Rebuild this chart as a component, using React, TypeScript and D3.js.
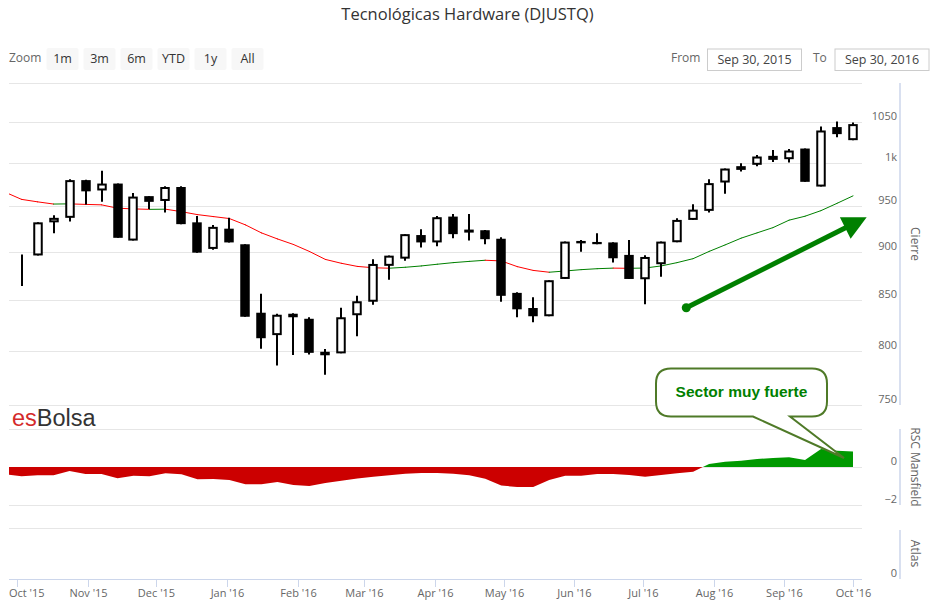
import { useRef, useEffect } from "react";
import * as d3 from "d3";

const WIDTH = 935;
const HEIGHT = 614;

const LEFT = 9;
const RIGHT = 862;
const AXIS_X = 900;

const MAIN_TOP = 83;
const MAIN_BOTTOM = 405;
const RSC_TOP = 429;
const RSC_BOTTOM = 505;
const ATLAS_TOP = 528;
const ATLAS_BOTTOM = 579;

const FONT = '"Open Sans", "Noto Sans", sans-serif';

// semanas (velas semanales), la primera fecha es la semana anterior (solo para la media y el RSC)
const PREV_WEEK = "2015-09-26";
const FIRST_WEEK = "2015-10-03";
const LAST_WEEK = "2016-10-01";

const OPEN = [896, 896, 932, 937, 980, 968, 976, 912, 961.5, 956, 972, 932, 903, 925, 908, 837, 815, 836, 831, 799, 797.5, 834.5, 848, 885, 892.6, 918, 910, 938.4, 920.7, 923.3, 914, 857, 841.7, 833.5, 871.3, 911.6, 910.5, 910, 896.6, 871, 886.7, 910.2, 934.7, 944.8, 977.2, 996.4, 998, 1008.7, 1004.7, 1017.5, 972.5, 1043.8, 1027.7];
const HIGH = [897, 932, 940, 981, 980.5, 991, 976, 965, 961.5, 973, 973, 939, 929, 937, 908, 856, 836, 836.5, 832.5, 801.6, 842, 854, 892, 896, 919, 924.4, 939, 941.4, 941.4, 923.5, 915.7, 857.6, 852.5, 870, 911, 912.6, 920, 910.2, 912.7, 896.2, 911, 936.6, 952.3, 981.1, 993.6, 1000, 1009.6, 1015.6, 1016.8, 1017.5, 1044.5, 1050.8, 1049.5];
const LOW = [864, 896, 920, 933, 952, 955, 915, 912, 947, 943, 930, 899, 902, 910, 833, 802, 786, 796, 796.5, 777.5, 797.5, 814, 845, 870.6, 890.5, 904.4, 906, 914.6, 912, 908, 848, 832.5, 827.5, 833.5, 871.3, 900, 908, 888.6, 871.3, 845.5, 873.7, 910.2, 934.7, 942.9, 964.1, 990, 996.4, 1001.2, 1000.7, 978, 972.5, 1031.4, 1027.7];
const CLOSE = [896.5, 932, 937, 980, 967, 976, 915, 961, 955, 972, 930, 899, 927, 910, 833, 812, 835, 832.5, 798, 795.7, 832.5, 848.5, 887, 895.8, 919, 910, 937.7, 919, 924, 913.5, 854, 840.4, 833.5, 870, 910.9, 909, 908.1, 893, 871.3, 894.4, 910.9, 934.7, 946.2, 976.5, 993.6, 992, 1007.9, 1003.9, 1015.1, 978, 1039.6, 1035.1, 1047.5];

// media movil (incluye la semana anterior)
const MA = [965.8, 957.8, 955.0, 952.5, 952.7, 952.1, 951.6, 947.8, 947.0, 946.5, 946.7, 943.9, 940.6, 938.4, 936.2, 929.2, 920.4, 913.8, 907.8, 900.3, 891.8, 887.7, 884.4, 883.0, 882.5, 883.5, 884.9, 886.7, 888.4, 889.7, 890.9, 890.2, 884.2, 880.2, 878.3, 879.6, 881.0, 882.0, 882.6, 882.4, 882.7, 884.9, 888.4, 892.6, 900.3, 907.3, 914.6, 920.4, 926.2, 934.4, 938.8, 945.1, 953.3, 961.8];

// RSC Mansfield (incluye la semana anterior)
const RSC = [-0.39, -0.49, -0.44, -0.44, -0.21, -0.37, -0.37, -0.59, -0.46, -0.49, -0.33, -0.38, -0.65, -0.63, -0.68, -0.91, -0.91, -0.79, -0.95, -1.0, -0.84, -0.73, -0.61, -0.51, -0.43, -0.36, -0.31, -0.31, -0.36, -0.43, -0.62, -0.98, -1.05, -1.05, -0.68, -0.46, -0.46, -0.37, -0.37, -0.42, -0.51, -0.42, -0.33, -0.25, 0.16, 0.28, 0.33, 0.42, 0.47, 0.51, 0.37, 0.95, 0.86, 0.81];

const PRICE_TICKS = [750, 800, 850, 900, 950, 1000, 1050, 1100];
const RSC_TICKS = [-2, 0, 2];
const ZOOM_BUTTONS = ["1m", "3m", "6m", "YTD", "1y", "All"];
const FROM_DATE = "Sep 30, 2015";
const TO_DATE = "Sep 30, 2016";

// anotaciones
const ARROW_FROM = { date: "2016-07-20", value: 842 };
const ARROW_TO = { date: "2016-10-07", value: 937.7 };

export default function App() {
  const svgRef = useRef<SVGSVGElement>(null);

  useEffect(() => {
    const svg = d3.select(svgRef.current);
    svg.selectAll("*").remove();

    const weeks = d3.utcSaturday.range(new Date(FIRST_WEEK), d3.utcDay.offset(new Date(LAST_WEEK), 1));
    const allWeeks = [new Date(PREV_WEEK), ...weeks];

    const candles = weeks.map((date, i) => ({
      date,
      open: OPEN[i],
      high: HIGH[i],
      low: LOW[i],
      close: CLOSE[i],
    }));

    const x = d3.scaleUtc()
      .domain([new Date("2015-10-01"), new Date("2016-10-01")])
      .range([17, 853]);
    const y = d3.scaleLog().domain([750, 1100]).range([MAIN_BOTTOM, MAIN_TOP]);
    const yRsc = d3.scaleLinear().domain([-2, 2]).range([RSC_BOTTOM, RSC_TOP]);

    svg.append("rect").attr("width", WIDTH).attr("height", HEIGHT).attr("fill", "#fff");

    const defs = svg.append("defs");
    defs.append("clipPath").attr("id", "clip-main")
      .append("rect").attr("x", LEFT).attr("y", MAIN_TOP).attr("width", RIGHT - LEFT).attr("height", MAIN_BOTTOM - MAIN_TOP);
    defs.append("clipPath").attr("id", "clip-pos")
      .append("rect").attr("x", LEFT).attr("y", RSC_TOP).attr("width", RIGHT - LEFT).attr("height", yRsc(0) - RSC_TOP);
    defs.append("clipPath").attr("id", "clip-neg")
      .append("rect").attr("x", LEFT).attr("y", yRsc(0)).attr("width", RIGHT - LEFT).attr("height", RSC_BOTTOM - yRsc(0));

    // titulo
    svg.append("text")
      .attr("x", WIDTH / 2).attr("y", 20)
      .attr("text-anchor", "middle")
      .attr("font-family", FONT).attr("font-size", 16.5).attr("fill", "#333")
      .text("Tecnológicas Hardware (DJUSTQ)");

    // selector de rango
    svg.append("text").attr("x", 9).attr("y", 62)
      .attr("font-family", FONT).attr("font-size", 12).attr("fill", "#666").text("Zoom");
    const btn = svg.append("g").selectAll("g").data(ZOOM_BUTTONS).enter().append("g")
      .attr("transform", (_d, i) => `translate(${46.5 + i * 37}, 48)`);
    btn.append("rect").attr("width", 32).attr("height", 22).attr("rx", 2).attr("fill", "#f7f7f7");
    btn.append("text").attr("x", 16).attr("y", 15).attr("text-anchor", "middle")
      .attr("font-family", FONT).attr("font-size", 12.5).attr("fill", "#333").text(d => d);

    svg.append("text").attr("x", 671).attr("y", 62)
      .attr("font-family", FONT).attr("font-size", 12).attr("fill", "#666").text("From");
    svg.append("text").attr("x", 813).attr("y", 62)
      .attr("font-family", FONT).attr("font-size", 12).attr("fill", "#666").text("To");
    [[707.5, FROM_DATE], [835, TO_DATE]].forEach(([bx, label]) => {
      svg.append("rect").attr("x", bx as number).attr("y", 49).attr("width", 94).attr("height", 21.5)
        .attr("fill", "#fff").attr("stroke", "#ccc").attr("stroke-width", 1);
      svg.append("text").attr("x", (bx as number) + 47).attr("y", 64).attr("text-anchor", "middle")
        .attr("font-family", FONT).attr("font-size", 12.5).attr("fill", "#444").text(label as string);
    });

    // rejilla
    const grid = svg.append("g").attr("stroke", "#e6e6e6").attr("stroke-width", 1);
    PRICE_TICKS.forEach(v => {
      grid.append("line").attr("x1", LEFT).attr("x2", RIGHT).attr("y1", Math.round(y(v)) + 0.5).attr("y2", Math.round(y(v)) + 0.5);
    });
    RSC_TICKS.forEach(v => {
      grid.append("line").attr("x1", LEFT).attr("x2", RIGHT).attr("y1", yRsc(v) + 0.5).attr("y2", yRsc(v) + 0.5);
    });
    grid.append("line").attr("x1", LEFT).attr("x2", RIGHT).attr("y1", ATLAS_TOP + 0.5).attr("y2", ATLAS_TOP + 0.5);

    // ejes derechos
    const axes = svg.append("g").attr("stroke", "#ccd6eb").attr("stroke-width", 1.5);
    axes.append("line").attr("x1", AXIS_X).attr("x2", AXIS_X).attr("y1", MAIN_TOP).attr("y2", MAIN_BOTTOM);
    axes.append("line").attr("x1", AXIS_X).attr("x2", AXIS_X).attr("y1", RSC_TOP).attr("y2", RSC_BOTTOM);
    axes.append("line").attr("x1", AXIS_X).attr("x2", AXIS_X).attr("y1", ATLAS_TOP + 2).attr("y2", ATLAS_BOTTOM);

    const labels = svg.append("g").attr("font-family", FONT).attr("font-size", 11).attr("fill", "#666").attr("text-anchor", "end");
    PRICE_TICKS.filter(v => v < 1100).forEach(v => {
      labels.append("text").attr("x", 897).attr("y", y(v) - 2).text(v === 1000 ? "1k" : String(v));
    });
    [0, -2].forEach(v => {
      labels.append("text").attr("x", 897).attr("y", yRsc(v) - 2).text(v < 0 ? `\u2212${Math.abs(v)}` : String(v));
    });
    labels.append("text").attr("x", 897).attr("y", ATLAS_BOTTOM - 2).text("0");

    const titles = [
      ["Cierre", (MAIN_TOP + MAIN_BOTTOM) / 2],
      ["RSC Mansfield", (RSC_TOP + RSC_BOTTOM) / 2],
      ["Atlas", (ATLAS_TOP + ATLAS_BOTTOM) / 2],
    ] as const;
    titles.forEach(([t, cy]) => {
      svg.append("text")
        .attr("transform", `translate(911, ${cy}) rotate(90)`)
        .attr("text-anchor", "middle")
        .attr("font-family", FONT).attr("font-size", 12).attr("fill", "#666")
        .text(t);
    });

    // eje x
    const xAxis = svg.append("g");
    xAxis.append("line").attr("x1", LEFT).attr("x2", RIGHT).attr("y1", ATLAS_BOTTOM + 0.5).attr("y2", ATLAS_BOTTOM + 0.5)
      .attr("stroke", "#ccd6eb").attr("stroke-width", 1);
    const months = d3.utcMonth.range(new Date("2015-10-01"), new Date("2016-10-02"));
    const fmt = d3.utcFormat("%b '%y");
    months.forEach(m => {
      const mx = Math.round(x(m)) + 0.5;
      xAxis.append("line").attr("x1", mx).attr("x2", mx).attr("y1", ATLAS_BOTTOM).attr("y2", ATLAS_BOTTOM + 8)
        .attr("stroke", "#ccd6eb").attr("stroke-width", 1);
      const t = xAxis.append("text").attr("x", mx).attr("y", 597).attr("text-anchor", "middle")
        .attr("font-family", FONT).attr("font-size", 11).attr("fill", "#666").text(fmt(m));
      const w = (t.node() as SVGTextElement).getComputedTextLength();
      if (mx - w / 2 < LEFT) t.attr("x", LEFT).attr("text-anchor", "start");
    });

    // logo
    const logo = svg.append("text").attr("x", 12).attr("y", 426)
      .attr("font-family", '"Liberation Sans", Arial, sans-serif').attr("font-size", 23.5);
    logo.append("tspan").attr("fill", "#d42a2a").text("es");
    logo.append("tspan").attr("fill", "#333").text("Bolsa");

    // RSC Mansfield
    const rscData = allWeeks.map((d, i) => ({ date: d, v: RSC[i] }));
    const rscArea = d3.area<{ date: Date; v: number }>()
      .x(d => x(d.date))
      .y0(yRsc(0))
      .y1(d => yRsc(d.v));
    svg.append("path").datum(rscData).attr("d", rscArea).attr("fill", "#cc0000").attr("clip-path", "url(#clip-neg)");
    svg.append("path").datum(rscData).attr("d", rscArea).attr("fill", "#009900").attr("clip-path", "url(#clip-pos)");

    // media movil coloreada por pendiente
    const main = svg.append("g").attr("clip-path", "url(#clip-main)");
    const maData = allWeeks.map((d, i) => ({ date: d, v: MA[i] }));
    d3.pairs(maData).forEach(([a, b]) => {
      main.append("line")
        .attr("x1", x(a.date)).attr("y1", y(a.v))
        .attr("x2", x(b.date)).attr("y2", y(b.v))
        .attr("stroke", b.v >= a.v ? "#008000" : "#ff0000")
        .attr("stroke-width", 1)
        .attr("stroke-linecap", "round");
    });

    // velas
    const bw = 7.5;
    const candleG = main.append("g").selectAll("g").data(candles).enter().append("g");
    candleG.append("line")
      .attr("x1", d => Math.round(x(d.date)))
      .attr("x2", d => Math.round(x(d.date)))
      .attr("y1", d => y(d.high))
      .attr("y2", d => y(d.low))
      .attr("stroke", "#000").attr("stroke-width", 2);
    candleG.append("rect")
      .attr("x", d => Math.round(x(d.date)) - bw / 2)
      .attr("y", d => y(Math.max(d.open, d.close)) + 1)
      .attr("width", bw)
      .attr("height", d => Math.max(0, y(Math.min(d.open, d.close)) - y(Math.max(d.open, d.close)) - 2))
      .attr("fill", d => (d.close >= d.open ? "#fff" : "#000"))
      .attr("stroke", "#000").attr("stroke-width", 2);

    // flecha
    const ax0 = x(new Date(ARROW_FROM.date)), ay0 = y(ARROW_FROM.value);
    const ax1 = x(new Date(ARROW_TO.date)), ay1 = y(ARROW_TO.value);
    const len = Math.hypot(ax1 - ax0, ay1 - ay0);
    const ux = (ax1 - ax0) / len, uy = (ay1 - ay0) / len;
    const headLen = 24, headHalf = 12;
    const bx = ax1 - ux * headLen, by = ay1 - uy * headLen;
    svg.append("line").attr("x1", ax0).attr("y1", ay0).attr("x2", bx + ux * 2).attr("y2", by + uy * 2)
      .attr("stroke", "#008000").attr("stroke-width", 5);
    svg.append("circle").attr("cx", ax0).attr("cy", ay0).attr("r", 4.5).attr("fill", "#008000");
    svg.append("path")
      .attr("d", `M${ax1},${ay1}L${bx - uy * headHalf},${by + ux * headHalf}L${bx + uy * headHalf},${by - ux * headHalf}Z`)
      .attr("fill", "#008000");

    // bocadillo
    const bx0 = 656, bx1 = 827, by0 = 368.5, by1 = 416.5, r = 15;
    const tipX = 844, tipY = 458;
    const callout = [
      `M${bx0 + r},${by0}`,
      `L${bx1 - r},${by0}`,
      `Q${bx1},${by0} ${bx1},${by0 + r}`,
      `L${bx1},${by1 - r}`,
      `Q${bx1},${by1} ${bx1 - r},${by1}`,
      `L790,${by1}`,
      `L${tipX},${tipY}`,
      `L753,${by1}`,
      `L${bx0 + r},${by1}`,
      `Q${bx0},${by1} ${bx0},${by1 - r}`,
      `L${bx0},${by0 + r}`,
      `Q${bx0},${by0} ${bx0 + r},${by0}`,
      "Z",
    ].join("");
    svg.append("path").attr("d", callout).attr("fill", "#fff").attr("stroke", "#4f7a28").attr("stroke-width", 2);
    svg.append("text").attr("x", (bx0 + bx1) / 2).attr("y", 397).attr("text-anchor", "middle")
      .attr("font-family", '"Liberation Sans", Arial, sans-serif').attr("font-weight", "bold")
      .attr("font-size", 15.5).attr("fill", "#008000")
      .text("Sector muy fuerte");
  }, []);

  return (
    <svg
      ref={svgRef}
      width={WIDTH}
      height={HEIGHT}
      style={{ position: "absolute", left: 0, top: 0, display: "block" }}
    />
  );
}
